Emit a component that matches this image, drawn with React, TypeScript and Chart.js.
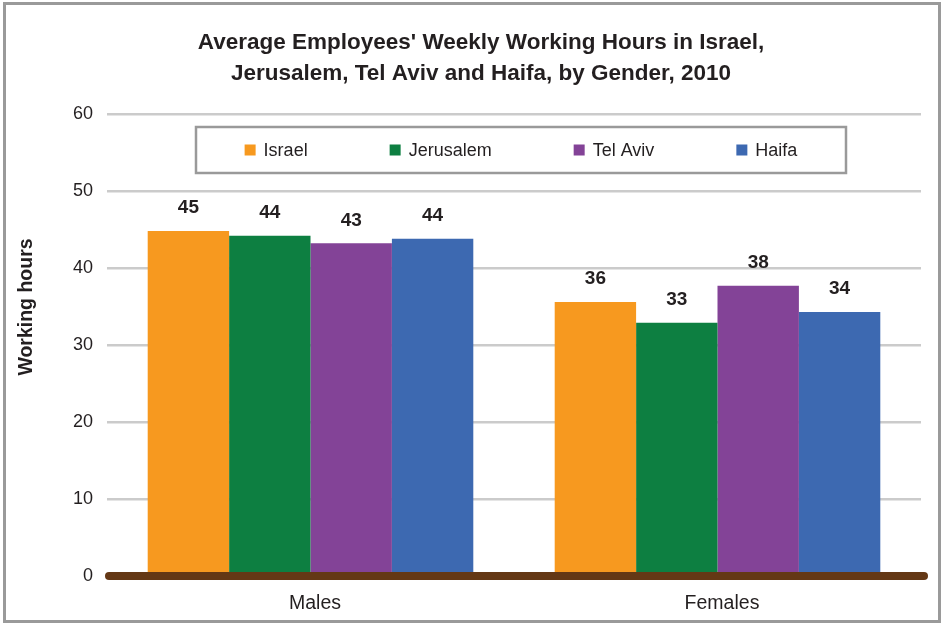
import React, { useEffect, useRef } from 'react';
import { Chart, registerables } from 'chart.js';

Chart.register(...registerables);

const categories = ['Males', 'Females'];
const seriesNames = ['Israel', 'Jerusalem', 'Tel Aviv', 'Haifa'];
const israel = [44.8, 35.6];
const jerusalem = [44.2, 32.9];
const telAviv = [43.2, 37.7];
const haifa = [43.8, 34.3];
const seriesColors = ['#F7991F', '#0D7F41', '#834397', '#3D69B1'];
const yTicks = [0, 10, 20, 30, 40, 50, 60];
const titleLines = [
  "Average Employees' Weekly Working Hours in Israel,",
  'Jerusalem, Tel Aviv and Haifa, by Gender, 2010',
];
const yTitle = 'Working hours';

const FONT = '"Liberation Sans", Arial, Helvetica, sans-serif';
const TEXT = '#231F20';

const decorPlugin = {
  id: 'decor',
  afterDatasetsDraw(chart: any) {
    const { ctx, chartArea, scales } = chart;
    const y0 = scales.y.getPixelForValue(0);
    ctx.save();
    ctx.strokeStyle = '#643815';
    ctx.lineWidth = 8;
    ctx.lineCap = 'round';
    ctx.beginPath();
    ctx.moveTo(chartArea.left + 2, y0);
    ctx.lineTo(chartArea.right + 3, y0);
    ctx.stroke();

    // value labels
    ctx.fillStyle = TEXT;
    ctx.font = `bold 19px ${FONT}`;
    ctx.textAlign = 'center';
    ctx.textBaseline = 'middle';
    chart.data.datasets.forEach((ds: any, i: number) => {
      const meta = chart.getDatasetMeta(i);
      meta.data.forEach((el: any, j: number) => {
        ctx.fillText(String(Math.round(ds.data[j])), el.x, el.y - 23);
      });
    });
    ctx.restore();
  },
  afterDraw(chart: any) {
    const { ctx, width, height } = chart;
    ctx.save();
    // outer frame
    ctx.strokeStyle = '#9A9A9A';
    ctx.lineWidth = 3;
    ctx.strokeRect(4.5, 3.5, width - 9, height - 5);

    // title
    ctx.fillStyle = TEXT;
    ctx.font = `bold 22.5px ${FONT}`;
    ctx.textAlign = 'center';
    ctx.textBaseline = 'middle';
    titleLines.forEach((line, i) => {
      ctx.fillText(line, 481, 43 + i * 31);
    });

    // y axis title
    ctx.save();
    ctx.translate(27, 307);
    ctx.rotate(-Math.PI / 2);
    ctx.font = `bold 19.5px ${FONT}`;
    ctx.fillText(yTitle, 0, 0);
    ctx.restore();

    // legend box
    const bx = 196, by = 127, bw = 650, bh = 46;
    ctx.fillStyle = '#FFFFFF';
    ctx.fillRect(bx, by, bw, bh);
    ctx.strokeStyle = '#9A9A9A';
    ctx.lineWidth = 2.5;
    ctx.strokeRect(bx, by, bw, bh);

    ctx.font = `18px ${FONT}`;
    ctx.textAlign = 'left';
    const sq = 11, gapText = 8, gapItem = 82;
    const widths = chart.data.datasets.map(
      (ds: any) => sq + gapText + ctx.measureText(ds.label).width
    );
    const total = widths.reduce((a: number, b: number) => a + b, 0) + gapItem * (widths.length - 1);
    let x = bx + (bw - total) / 2;
    const cy = by + bh / 2;
    chart.data.datasets.forEach((ds: any, i: number) => {
      ctx.fillStyle = ds.backgroundColor;
      ctx.fillRect(x, cy - sq / 2, sq, sq);
      ctx.fillStyle = TEXT;
      ctx.fillText(ds.label, x + sq + gapText, cy + 1);
      x += widths[i] + gapItem;
    });
    ctx.restore();
  },
};

export default function App() {
  const ref = useRef<HTMLCanvasElement>(null);
  useEffect(() => {
    if (!ref.current) return;
    const seriesData = [israel, jerusalem, telAviv, haifa];
    const chart = new Chart(ref.current, {
      type: 'bar',
      data: {
        labels: categories,
        datasets: seriesNames.map((name, i) => ({
          label: name,
          data: seriesData[i],
          backgroundColor: seriesColors[i],
          borderWidth: 0,
          categoryPercentage: 0.8,
          barPercentage: 1.0,
        })),
      },
      options: {
        responsive: false,
        animation: false,
        layout: { padding: { top: 114, right: 23, bottom: 0, left: 0 } },
        plugins: {
          legend: { display: false },
          title: { display: false },
          tooltip: { enabled: false },
        },
        scales: {
          x: {
            grid: { display: false, drawTicks: false },
            border: { display: false },
            ticks: { color: TEXT, font: { family: FONT, size: 19.5 }, padding: 16, labelOffset: 4.5 },
            afterFit: (s: any) => { s.height = 47; },
          },
          y: {
            min: yTicks[0],
            max: yTicks[yTicks.length - 1],
            afterBuildTicks: (s: any) => { s.ticks = yTicks.map((v) => ({ value: v })); },
            grid: { color: '#CBCBCB', lineWidth: 2.5, drawTicks: false },
            border: { display: false },
            ticks: { color: TEXT, font: { family: FONT, size: 18 }, padding: 14 },
            title: { display: false },
            afterFit: (s: any) => { s.width = 107; },
          },
        },
      },
      plugins: [decorPlugin],
    });
    return () => chart.destroy();
  }, []);
  return (
    <div style={{ position: 'fixed', left: 0, top: 0, width: 944, height: 623, background: '#fff' }}>
      <canvas ref={ref} width={944} height={623} style={{ display: 'block' }} />
    </div>
  );
}
